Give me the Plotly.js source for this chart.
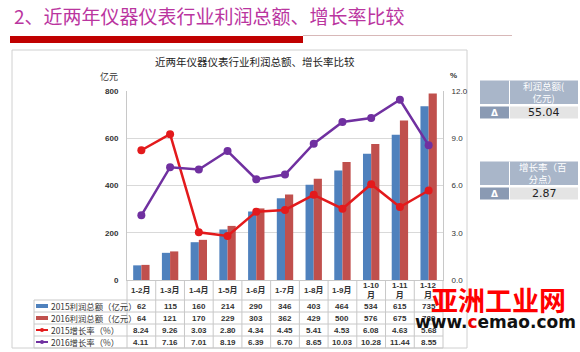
<!DOCTYPE html>
<html><head><meta charset="utf-8">
<script src="https://cdn.plot.ly/plotly-3.0.1.min.js"></script>
<style>html,body{margin:0;padding:0;background:#fff;}#chart{width:580px;height:352px;}</style>
</head><body><div id="chart"></div>
<script>
const categories = ['1-2月','1-3月','1-4月','1-5月','1-6月','1-7月','1-8月','1-9月','1-10月','1-11月','1-12月'];
const profit2015 = [62,115,160,214,290,346,403,464,534,615,735];
const profit2016 = [64,121,170,229,303,362,429,500,576,675,789];
const growth2015 = [8.24,9.26,3.03,2.80,4.34,4.45,5.41,4.53,6.08,4.63,5.68];
const growth2016 = [4.11,7.16,7.01,8.19,6.39,6.70,8.65,10.03,10.28,11.44,8.55];
const seriesNames = ['2015利润总额（亿元）','2016利润总额（亿元）','2015增长率（%）','2016增长率（%）'];
const pageTitle = '2、近两年仪器仪表行业利润总额、增长率比较';
const chartTitle = '近两年仪器仪表行业利润总额、增长率比较';
const boxes = [{head:'利润总额(<br>亿元)', val:'55.04'},{head:'增长率（百<br>分点）', val:'2.87'}];

const W=580,H=352,L=127,R=443,T=91,B=280;
const px = x => (x-L)/(R-L);
const py = y => (B-y)/(B-T);
const C_BLUE='#4F81BD', C_RED='#C0504D', C_LRED='#E31A1C', C_PURP='#7030A0';
const tfont = {family:'Liberation Sans, Arial, Noto Sans CJK SC', size:8, color:'#333', weight:'bold'};
const cjk = 'Noto Sans CJK SC, sans-serif';

const traces = [
 {type:'bar', x:categories, y:profit2015, name:seriesNames[0], marker:{color:C_BLUE}},
 {type:'bar', x:categories, y:profit2016, name:seriesNames[1], marker:{color:C_RED}},
 {type:'scatter', mode:'lines+markers', x:categories, y:growth2015, yaxis:'y2', name:seriesNames[2], line:{color:C_LRED,width:2.5}, marker:{color:C_LRED,size:8}},
 {type:'scatter', mode:'lines+markers', x:categories, y:growth2016, yaxis:'y2', name:seriesNames[3], line:{color:C_PURP,width:2.5}, marker:{color:C_PURP,size:8}}
];

const shapes=[], ann=[];
const line=(x0,y0,x1,y1,c,w)=>shapes.push({type:'line',xref:'paper',yref:'paper',x0:px(x0),y0:py(y0),x1:px(x1),y1:py(y1),line:{color:c||'#c8c8c8',width:w||1}});
const rect=(x0,y0,x1,y1,fill,lc)=>shapes.push({type:'rect',xref:'paper',yref:'paper',x0:px(x0),y0:py(y0),x1:px(x1),y1:py(y1),fillcolor:fill||'rgba(0,0,0,0)',line:{color:lc||'rgba(0,0,0,0)',width:lc?1:0},layer:'below'});
const text=(x,y,t,f,xa)=>ann.push({xref:'paper',yref:'paper',x:px(x),y:py(y),text:t,showarrow:false,font:f,xanchor:xa||'center',yanchor:'middle'});

// page decorations
rect(10,36,303,43,'#C00000');
line(303,35.5,512,35.5,'#d8b8b8',1);
rect(12,50,467,348,null,'#d0d0d0');
text(12,15,pageTitle,{family:cjk,size:19,color:'#BA359F'},'left');
text(255,62,chartTitle,{family:cjk,size:10.5,color:'#222'});
text(109,77,'亿元',{family:cjk,size:9,color:'#333'});
text(453,75,'%',{family:'Liberation Sans',size:8,color:'#333',weight:'bold'});

// data table
const n=categories.length, cw=(R-L)/n;
const rowsY=[300,312,324,336,348];
rowsY.forEach(y=>line(34,y,R,y));
for(let i=0;i<=n;i++){ line(L+i*cw,280,L+i*cw,348); }
line(34,300,34,348);
categories.forEach((c,i)=>{
  const lab = c.length>4 ? c.replace('月','<br>月') : c;
  text(L+(i+0.5)*cw,290,lab,tfont);
});
const rows=[profit2015.map(String),profit2016.map(String),growth2015.map(v=>v.toFixed(2)),growth2016.map(v=>v.toFixed(2))];
rows.forEach((r,k)=>{ r.forEach((v,i)=>text(L+(i+0.5)*cw,306+12*k,v,tfont)); });
// legend keys
rect(36,304,48,308,C_BLUE); rect(36,316,48,320,C_RED);
line(36,330,48,330,C_LRED,2); line(36,342,48,342,C_PURP,2);
shapes.push({type:'circle',xref:'paper',yref:'paper',x0:px(40),x1:px(44),y0:py(328),y1:py(332),fillcolor:C_LRED,line:{width:0}});
shapes.push({type:'circle',xref:'paper',yref:'paper',x0:px(40),x1:px(44),y0:py(340),y1:py(344),fillcolor:C_PURP,line:{width:0}});
seriesNames.forEach((s,k)=>text(48.5,306+12*k,s,{family:cjk,size:8.4,color:'#333'},'left'));

// side boxes
[[80.5,104,106.5,118.5],[161.5,185,187.5,199.5]].forEach((b,k)=>{
  rect(480,b[0],578,b[1],'#A9B6C9');
  line(509.5,b[0],509.5,b[1],'#ffffff',1);
  rect(480,b[2],509,b[3],'#8A9AB3');
  rect(510,b[2],578,b[3],'#E4E4E4');
  text(543,(b[0]+b[1])/2,boxes[k].head,{family:cjk,size:9.5,color:'#fff'});
  text(494.5,(b[2]+b[3])/2,'Δ',{family:'DejaVu Sans',size:9,color:'#fff',weight:'bold'});
  text(544,(b[2]+b[3])/2,boxes[k].val,{family:'DejaVu Sans',size:11,color:'#222'});
});
// watermark
text(498,299,'亚洲工业网',{family:cjk,size:27,color:'#FF0000',weight:'bold'});
text(495,322,'www.<span style="color:#e00">c</span>emao.com',{family:'DejaVu Sans',size:17,color:'#111',weight:'bold'});

const layout={
  width:W,height:H,margin:{l:L,r:W-R,t:T,b:H-B,pad:0},
  paper_bgcolor:'#fff',plot_bgcolor:'rgba(0,0,0,0)',
  showlegend:false,barmode:'group',bargap:0.43,bargroupgap:0,
  xaxis:{type:'category',range:[-0.5,n-0.5],showticklabels:false,showline:true,linecolor:'#c8c8c8',showgrid:false,zeroline:false,fixedrange:true},
  yaxis:{range:[0,800],dtick:200,showgrid:true,gridcolor:'#d9d9d9',showline:true,linecolor:'#c8c8c8',zeroline:false,ticks:'',ticklabelstandoff:6,tickfont:tfont},
  yaxis2:{range:[0,12],dtick:3,tickformat:'.1f',overlaying:'y',side:'right',showgrid:false,showline:true,linecolor:'#c8c8c8',zeroline:false,ticks:'',ticklabelstandoff:6,tickfont:{family:'Liberation Sans',size:8,color:'#333'}},
  shapes:shapes,annotations:ann
};
Plotly.newPlot('chart',traces,layout,{staticPlot:true,displayModeBar:false});
</script></body></html>
